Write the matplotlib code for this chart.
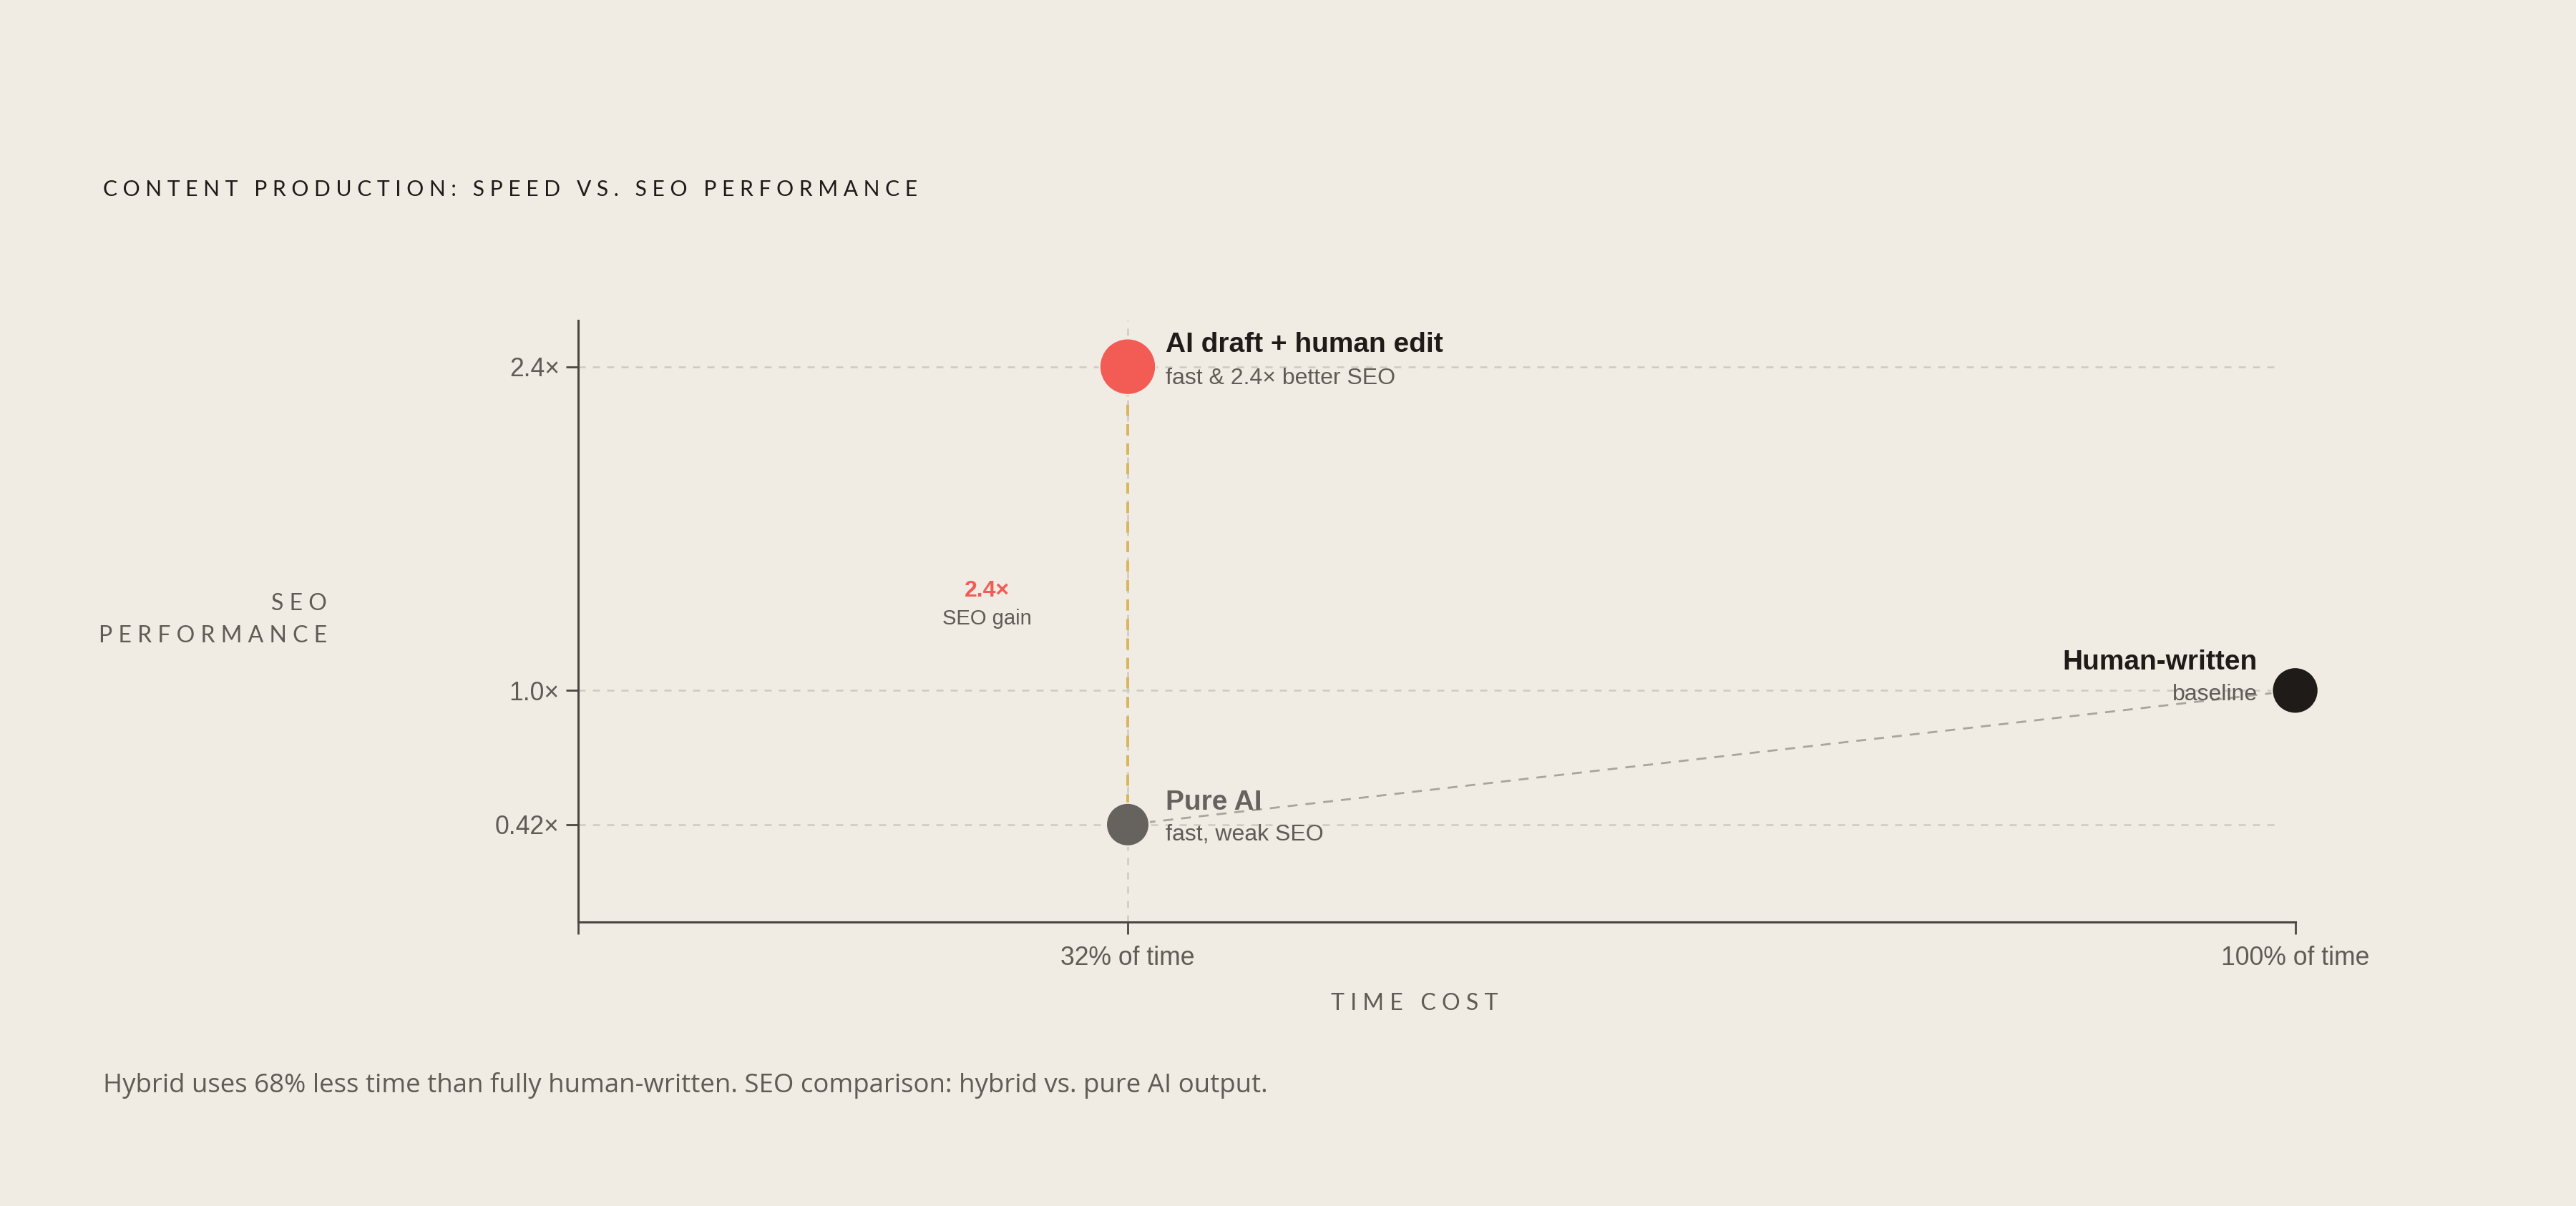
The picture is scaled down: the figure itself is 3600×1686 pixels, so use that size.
import matplotlib.pyplot as plt

# data
labels = ["Pure AI", "AI draft + human edit", "Human-written"]
subs = ["fast, weak SEO", "fast & 2.4× better SEO", "baseline"]
time_pct = [32, 32, 100]
seo = [0.42, 2.4, 1.0]
colors = ["#66625d", "#f25c54", "#1e1b18"]
sizes = [470, 800, 540]
yticks = [0.42, 1.0, 2.4]
ytick_labels = ["0.42×", "1.0×", "2.4×"]
xticks = [0, 32, 100]
xtick_labels = ["", "32% of time", "100% of time"]

bg = "#f0ece4"
plt.rcParams["font.family"] = ["Liberation Sans", "DejaVu Sans"]

fig = plt.figure(figsize=(18, 8.43), dpi=200, facecolor=bg)
ax = fig.add_axes([0.2245, 0.2357, 0.6665, 0.4986], facecolor=bg)
ax.set_xlim(0, 100)
ax.set_ylim(0, 2.6)

for y in yticks:
    ax.axhline(y, xmin=0, xmax=0.99, color="#cfcac1", ls=(0, (4, 4)), lw=0.9, zorder=1)
ax.axvline(32, color="#cfcac1", ls=(0, (4, 4)), lw=0.9, zorder=1)

# gain line and connector
ax.plot([32, 32], [seo[0], seo[1]], color="#d9b65a", ls=(0, (4, 3)), lw=1.4, zorder=2)
ax.plot([time_pct[0], time_pct[2]], [seo[0], seo[2]], color="#a9a49c", ls=(0, (5, 4)), lw=1.0, zorder=2)

ax.scatter(time_pct, seo, s=sizes, c=colors, zorder=3, linewidths=0.8,
           edgecolors=bg, clip_on=False)

# point labels
ax.annotate(labels[1], (32, 2.4), xytext=(19, 11), textcoords="offset points",
            fontsize=14, fontweight="bold", color="#1e1b18", va="center")
ax.annotate(subs[1], (32, 2.4), xytext=(19, -6), textcoords="offset points",
            fontsize=11.5, color="#5f5b55", va="center")
ax.annotate(labels[0], (32, 0.42), xytext=(19, 11), textcoords="offset points",
            fontsize=14, fontweight="bold", color="#66625d", va="center")
ax.annotate(subs[0], (32, 0.42), xytext=(19, -5), textcoords="offset points",
            fontsize=11.5, color="#5f5b55", va="center")
ax.annotate(labels[2], (100, 1.0), xytext=(-19, 14), textcoords="offset points",
            fontsize=14, fontweight="bold", color="#1e1b18", va="center", ha="right")
ax.annotate(subs[2], (100, 1.0), xytext=(-19, -2), textcoords="offset points",
            fontsize=11.5, color="#5f5b55", va="center", ha="right")

ax.text(23.8, 1.43, "2.4×", color="#f25c54", fontsize=11.5, fontweight="bold", ha="center", va="center")
ax.text(23.8, 1.31, "SEO gain", color="#5f5b55", fontsize=10.5, ha="center", va="center")

ax.set_yticks(yticks)
ax.set_yticklabels(ytick_labels)
ax.set_xticks(xticks)
ax.set_xticklabels(xtick_labels)
ax.tick_params(colors="#4a4641", labelcolor="#5f5b55", labelsize=12.8, length=6, width=1)
ax.tick_params(axis="x", pad=6)
for s in ["top", "right"]:
    ax.spines[s].set_visible(False)
for s in ["left", "bottom"]:
    ax.spines[s].set_color("#4a4641")
    ax.spines[s].set_linewidth(1.1)

fig.text(0.04, 0.843, "C O N T E N T   P R O D U C T I O N :   S P E E D   V S .   S E O   P E R F O R M A N C E",
         fontsize=10.8, color="#1e1b18", va="center", family=["Lato", "DejaVu Sans"])
fig.text(0.127, 0.486, "S E O\nP E R F O R M A N C E", fontsize=11.5, color="#5f5b55",
         ha="right", va="center", linespacing=1.6, family=["Lato", "DejaVu Sans"])
fig.text(0.549, 0.168, "T I M E   C O S T", fontsize=11.5, color="#5f5b55",
         ha="center", va="center", family=["Lato", "DejaVu Sans"])
fig.text(0.04, 0.1, "Hybrid uses 68% less time than fully human-written. SEO comparison: hybrid vs. pure AI output.",
         fontsize=13.2, color="#5f5b55", va="center", family=["Open Sans", "DejaVu Sans"])

fig.savefig("out.png", facecolor=bg)
